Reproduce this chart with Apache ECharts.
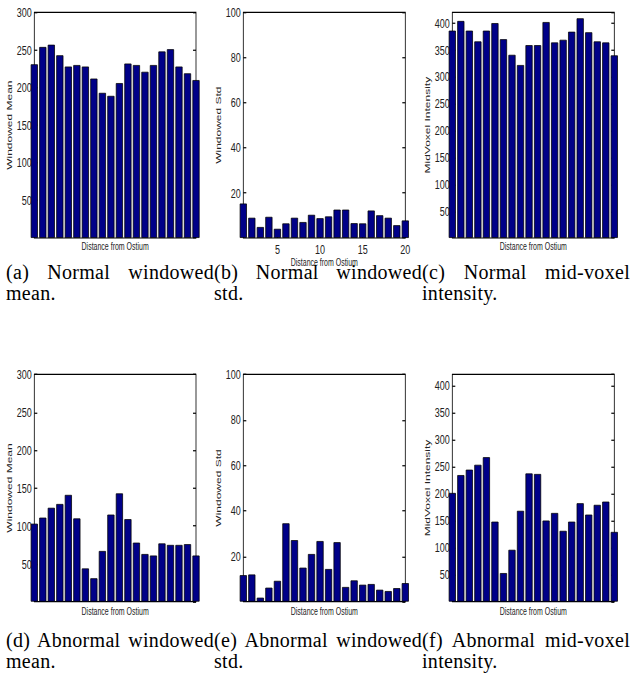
<!DOCTYPE html>
<html>
<head>
<meta charset="utf-8">
<script src="https://cdn.jsdelivr.net/npm/echarts@6/dist/echarts.min.js"></script>
<style>
html,body{margin:0;padding:0;background:#fff;width:634px;height:689px;overflow:hidden;}
#chart{position:absolute;left:0;top:0;width:634px;height:459.333px;transform:scaleY(1.5);transform-origin:0 0;}
.cap{position:absolute;width:208px;font-family:'Liberation Serif','Times New Roman',serif;font-size:20px;letter-spacing:0.3px;line-height:21px;color:#000;}
.l1{text-align:justify;text-align-last:justify;white-space:nowrap;}
.l2{text-align:left;}
</style>
</head>
<body>
<div id="chart"></div>
<div id="caps"></div>
<script>
// ---- data ----
const categories = [1,2,3,4,5,6,7,8,9,10,11,12,13,14,15,16,17,18,19,20];
const normalMean = [231,254,257,243,228,230,228,212,193,189,206,232,230,221,230,248,251,228,219,210];
const normalStd  = [15.3,9.0,4.9,9.4,4.1,6.5,9.0,7.1,10.3,8.8,9.6,12.6,12.6,6.6,6.5,12.2,10.1,9.0,5.7,7.8];
const normalMid  = [386,404,386,366,386,400,370,341,322,359,359,402,364,369,384,409,383,366,364,340];
const abnMean    = [103,111,124,129,141,110,44,31,67,115,143,109,78,63,61,77,75,75,76,61];
const abnStd     = [11.7,12.0,1.8,6.2,9.2,34.5,27.1,15.0,21.0,26.7,14.4,26.2,6.5,9.4,7.5,7.8,5.3,4.7,6.0,8.2];
const abnMid     = [201,234,244,253,267,148,53,96,168,237,236,150,164,131,148,182,161,179,185,129];
const yNames = ['Windowed Mean','Windowed Std','MidVoxel Intensity'];
const yMax = [300,100,420];
const yInterval = [50,20,50];
const xName = 'Distance from Ostium';
const xTickLabels = [5,10,15,20];
const captions = [
  ['(a) Normal windowed','mean.'],
  ['(b) Normal windowed','std.'],
  ['(c) Normal mid-voxel','intensity.'],
  ['(d) Abnormal windowed','mean.'],
  ['(e) Abnormal windowed','std.'],
  ['(f) Abnormal mid-voxel','intensity.']
];
const seriesValues = [normalMean, normalStd, normalMid, abnMean, abnStd, abnMid];

// ---- layout ----
const S = 1.5;
const colLeft = [34.3, 243.3, 452.3];
const colWidth = [161.7, 162, 162];
const rowTop = [12.3, 374.3];
const rowHeight = [225.7, 227.4];
const FF = 'Liberation Sans, Arial, sans-serif';

const grids = [], xAxes = [], yAxes = [], series = [], rightAxes = [];
for (let i = 0; i < 6; i++) {
  const r = Math.floor(i / 3), c = i % 3;
  const showX = (i === 1);
  grids.push({
    left: colLeft[c], top: rowTop[r] / S, width: colWidth[c], height: rowHeight[r] / S,
    show: true, borderColor: '#000', borderWidth: 0.8, backgroundColor: 'transparent',
    containLabel: false, outerBoundsMode: 'none'
  });
  xAxes.push({
    gridIndex: i, type: 'value', min: 1, max: 20, splitNumber: 4,
    axisLine: {show: false},
    axisTick: {show: showX, inside: true, length: 2, lineStyle: {color: '#000', width: 0.8}},
    axisLabel: {show: showX, fontSize: 9, margin: 3, color: '#222', fontFamily: FF,
      formatter: v => xTickLabels.indexOf(v) >= 0 ? String(v) : ''},
    splitLine: {show: false},
    name: xName, nameLocation: 'middle',
    nameGap: showX ? 9 : (r === 0 ? 2.3 : 3.2),
    nameTextStyle: {fontSize: 7, color: '#222', fontFamily: FF}
  });
  yAxes.push({
    gridIndex: i, type: 'value', min: 0, max: yMax[c], interval: yInterval[c], position: 'left',
    axisLine: {show: false},
    axisTick: {show: true, inside: true, length: 3, lineStyle: {color: '#000', width: 0.8}},
    axisLabel: {fontSize: 9, margin: 2.5, color: '#222', fontFamily: FF,
      showMinLabel: false, showMaxLabel: yMax[c] % yInterval[c] === 0},
    splitLine: {show: false},
    name: yNames[c], nameLocation: 'middle', nameGap: 16,
    nameTextStyle: {fontSize: 8, color: '#222', fontFamily: FF}
  });
  rightAxes.push({
    gridIndex: i, type: 'value', min: 0, max: yMax[c], interval: yInterval[c], position: 'right',
    axisLine: {show: false},
    axisTick: {show: true, inside: true, length: 3, lineStyle: {color: '#000', width: 0.8}},
    axisLabel: {show: false}, splitLine: {show: false}
  });
  series.push({
    type: 'bar', xAxisIndex: i, yAxisIndex: i, clip: true, silent: true,
    barWidth: 7,
    itemStyle: {color: '#000088', borderColor: '#000', borderWidth: 0.6},
    data: categories.map((d, k) => [d, seriesValues[i][k]])
  });
}

const chart = echarts.init(document.getElementById('chart'), null, {renderer: 'svg'});
chart.setOption({
  animation: false,
  backgroundColor: 'transparent',
  grid: grids,
  xAxis: xAxes,
  yAxis: yAxes.concat(rightAxes),
  series: series
});

// ---- captions ----
const capLeft = [6, 214, 422];
const capTop = [261.5, 630];
const capsDiv = document.getElementById('caps');
captions.forEach((cp, i) => {
  const r = Math.floor(i / 3), c = i % 3;
  const d = document.createElement('div');
  d.className = 'cap';
  d.style.left = capLeft[c] + 'px';
  d.style.top = capTop[r] + 'px';
  d.innerHTML = '<div class="l1">' + cp[0] + '</div><div class="l2">' + cp[1] + '</div>';
  capsDiv.appendChild(d);
});
</script>
</body>
</html>
